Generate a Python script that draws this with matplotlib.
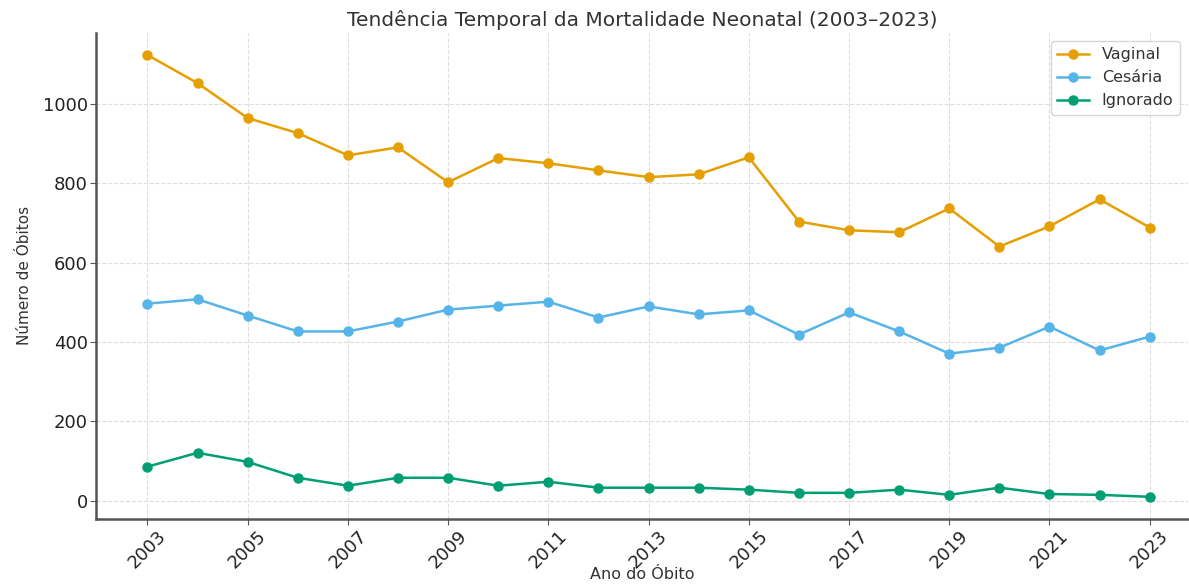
import matplotlib.pyplot as plt

plt.rcParams["font.family"] = ["DejaVu Sans"]

anos = list(range(2003, 2024))
vaginal = [1124, 1053, 965, 927, 871, 891, 803, 864, 851, 833, 816,
           823, 866, 704, 682, 677, 737, 641, 692, 760, 689]
cesaria = [497, 508, 467, 427, 427, 452, 482, 492, 502, 462, 490,
           470, 480, 419, 475, 427, 371, 386, 439, 379, 414]
ignorado = [86, 121, 98, 58, 38, 58, 58, 38, 48, 33, 33,
            33, 28, 20, 20, 28, 15, 33, 17, 15, 10]

series = [("Vaginal", vaginal, "#E69F00"),
          ("Cesária", cesaria, "#56B4E9"),
          ("Ignorado", ignorado, "#009E73")]

fig = plt.figure(figsize=(11.89, 5.87), dpi=100)
ax = fig.add_axes([0.081, 0.116, 0.918, 0.828])

for nome, valores, cor in series:
    ax.plot(anos, valores, marker="o", markersize=6.5, linewidth=1.8, color=cor, label=nome)

ax.set_xlim(2001.98, 2023.76)
ax.set_xticks(anos[::2])
ax.set_xticklabels([str(a) for a in anos[::2]], rotation=45, fontsize=13, color="#222222")
ax.tick_params(axis="y", labelsize=13, labelcolor="#222222")
ax.tick_params(axis="both", color="#555555", length=4, pad=2)
ax.set_yticks([0, 200, 400, 600, 800, 1000])

ax.set_title("Tendência Temporal da Mortalidade Neonatal (2003–2023)", fontsize=14.5, color="#333333", pad=5)
ax.set_xlabel("Ano do Óbito", fontsize=11.5, color="#333333", labelpad=-4)
ax.set_ylabel("Número de Óbitos", fontsize=11, color="#333333", labelpad=8)

ax.grid(True, linestyle="--", color="#dddddd", linewidth=0.8)
ax.set_axisbelow(True)
for lado in ["top", "right"]:
    ax.spines[lado].set_visible(False)
for lado in ["left", "bottom"]:
    ax.spines[lado].set_color("#555555")
    ax.spines[lado].set_linewidth(1.8)

leg = ax.legend(loc="upper right", fontsize=11.5, frameon=True, edgecolor="#cccccc")
for t in leg.get_texts():
    t.set_color("#333333")

fig.savefig("out.png", dpi=100)
